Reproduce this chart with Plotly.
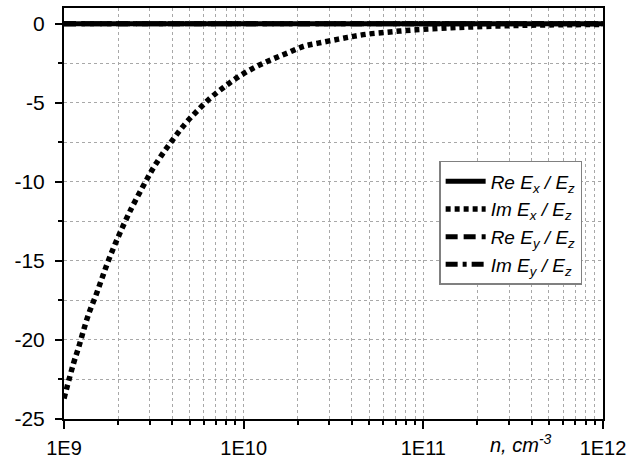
import plotly.graph_objects as go

# Data
n_vals = [1.0e9, 1.13e9, 1.21e9, 1.29e9, 1.38e9, 1.50e9, 1.62e9, 1.75e9, 1.90e9, 2.08e9,
          2.29e9, 2.41e9, 2.84e9, 3.16e9, 3.59e9, 4.12e9, 4.74e9, 5.51e9, 6.55e9, 7.76e9,
          9.42e9, 1.16e10, 1.43e10, 1.75e10, 2.15e10, 2.60e10, 3.37e10, 4.05e10, 4.91e10,
          6.08e10, 7.38e10, 9.06e10, 1.13e11, 1.43e11, 1.74e11, 3.0e11, 5.0e11, 1.0e12]
im_ex = [-23.7, -21.48, -20.42, -19.32, -18.27, -17.22, -16.16, -15.1, -14.09, -13.06,
         -12.03, -11.52, -10.0, -9.07, -8.12, -7.19, -6.31, -5.51, -4.68, -4.01,
         -3.33, -2.74, -2.26, -1.85, -1.43, -1.22, -0.97, -0.80, -0.65,
         -0.55, -0.46, -0.38, -0.32, -0.25, -0.21, -0.12, -0.07, -0.04]
n_flat = [1.0e9, 1.0e12]
re_ex = [0, 0]
re_ey = [0, 0]
im_ey = [0, 0]

decade_vals = [1e9, 1e10, 1e11, 1e12]
decade_text = ["1E9", "1E10", "1E11", "1E12"]
y_tick_vals = [0, -5, -10, -15, -20, -25]
y_tick_text = ["0", "-5", "-10", "-15", "-20", "-25"]

FONT = "Liberation Sans, Arial, sans-serif"

fig = go.Figure()
fig.add_trace(go.Scatter(x=n_flat, y=re_ex, mode="lines",
                         line=dict(color="black", width=5, dash="solid"),
                         name="<i>Re E<sub>x</sub> / E<sub>z</sub></i>"))
fig.add_trace(go.Scatter(x=n_vals, y=im_ex, mode="lines",
                         line=dict(color="black", width=5.5, dash="5px,4px", shape="spline"),
                         name="<i>Im E<sub>x</sub> / E<sub>z</sub></i>"))
fig.add_trace(go.Scatter(x=n_flat, y=re_ey, mode="lines",
                         line=dict(color="black", width=5, dash="12px,6px"),
                         name="<i>Re E<sub>y</sub> / E<sub>z</sub></i>"))
fig.add_trace(go.Scatter(x=n_flat, y=im_ey, mode="lines",
                         line=dict(color="black", width=5, dash="12px,5px,4px,5px"),
                         name="<i>Im E<sub>y</sub> / E<sub>z</sub></i>"))

grid = dict(showgrid=True, gridcolor="#a8a8a8", gridwidth=1, griddash="dot")

fig.update_xaxes(type="log", range=[9, 12], tickvals=decade_vals, ticktext=decade_text,
                 ticks="outside", ticklen=8, tickwidth=2, tickcolor="black",
                 showline=True, linecolor="black", linewidth=2, mirror=True,
                 zeroline=False, ticklabelstandoff=2, automargin=False,
                 tickfont=dict(family=FONT, size=20, color="black"),
                 minor=dict(dtick="D1", ticks="outside", ticklen=4, tickwidth=2,
                            tickcolor="black", **grid),
                 **grid)
fig.update_yaxes(range=[-25, 1], tickvals=y_tick_vals, ticktext=y_tick_text,
                 ticks="outside", ticklen=7, tickwidth=2, tickcolor="black",
                 showline=True, linecolor="black", linewidth=2, mirror=True,
                 zeroline=False, ticklabelstandoff=6, automargin=False,
                 tickfont=dict(family=FONT, size=21, color="black"),
                 minor=dict(dtick=2.5, ticks="outside", ticklen=4, tickwidth=2,
                            tickcolor="black", **grid),
                 **grid)

fig.add_annotation(text="<i>n, cm<sup>-3</sup></i>", xref="paper", yref="paper",
                   x=0.848, y=-0.025, xanchor="center", yanchor="top", showarrow=False,
                   font=dict(family=FONT, size=20, color="black"))

fig.update_layout(
    width=638, height=460,
    margin=dict(l=64, r=35, t=8, b=41, autoexpand=False),
    paper_bgcolor="white", plot_bgcolor="white",
    font=dict(family=FONT, size=19, color="black"),
    legend=dict(x=0.696, y=0.628, xanchor="left", yanchor="top",
                bgcolor="white", bordercolor="#808080", borderwidth=1.5,
                font=dict(family=FONT, size=19, color="black"),
                tracegroupgap=0, itemwidth=40),
    showlegend=True,
)

fig.write_html("out.html")
